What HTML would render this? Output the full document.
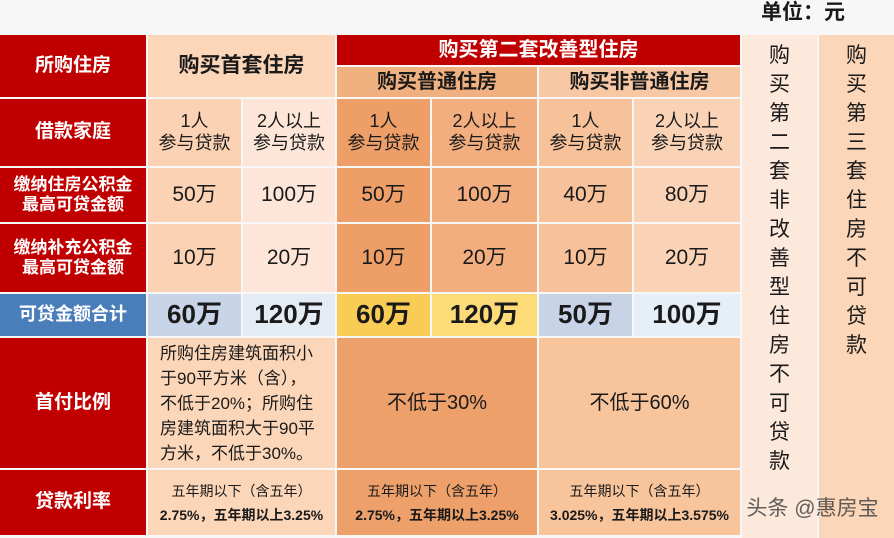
<!DOCTYPE html>
<html><head><meta charset="utf-8"><style>
body{margin:0;width:894px;height:538px;background:#f7f7f7;position:relative;overflow:hidden;font-family:"Liberation Sans","Noto Sans CJK SC",sans-serif;}
.c{position:absolute;display:flex;align-items:center;justify-content:center;text-align:center;box-sizing:border-box;color:#1a1a1a;line-height:1.2;}
.r{background:#c00000;color:#fff;font-weight:bold;font-size:19px;}
.b{font-weight:bold;}
.v{flex-direction:column;font-size:21px;line-height:29px;justify-content:flex-start;padding-top:6px;}
</style></head><body>
<div class="c b" style="left:748px;top:0;width:110px;height:26px;font-size:21px;">单位：元</div>

<div class="c r" style="left:0;top:35px;width:146px;height:62px;">所购住房</div>
<div class="c b" style="left:148px;top:35px;width:187px;height:62px;background:#fcd6b8;font-size:21px;">购买首套住房</div>
<div class="c r" style="left:337px;top:35px;width:403px;height:30px;font-size:20px;">购买第二套改善型住房</div>
<div class="c b" style="left:337px;top:67px;width:200px;height:30px;background:#f1b07f;font-size:20px;">购买普通住房</div>
<div class="c b" style="left:539px;top:67px;width:201px;height:30px;background:#f8c8a4;font-size:20px;">购买非普通住房</div>

<div class="c r" style="left:0;top:99px;width:146px;height:67px;">借款家庭</div>
<div class="c r" style="left:0;top:168px;width:146px;height:54px;font-size:17px;">缴纳住房公积金<br>最高可贷金额</div>
<div class="c r" style="left:0;top:224px;width:146px;height:68px;font-size:17px;">缴纳补充公积金<br>最高可贷金额</div>
<div class="c r" style="left:0;top:294px;width:146px;height:42px;background:#4a7ebb;font-size:18px;">可贷金额合计</div>
<div class="c r" style="left:0;top:338px;width:146px;height:130px;">首付比例</div>
<div class="c r" style="left:0;top:470px;width:146px;height:65px;">贷款利率</div>

<div id="grid"></div>

<div class="c" style="left:148px;top:338px;width:187px;height:130px;background:#fcd6b8;font-size:17px;text-align:left;justify-content:flex-start;padding:0 8px 0 12px;line-height:25px;white-space:nowrap;">所购住房建筑面积小<br>于90平方米（含），<br>不低于20%；所购住<br>房建筑面积大于90平<br>方米，不低于30%。</div>
<div class="c" style="left:337px;top:338px;width:200px;height:130px;background:#eea06a;font-size:20px;">不低于30%</div>
<div class="c" style="left:539px;top:338px;width:201px;height:130px;background:#f7c49c;font-size:20px;">不低于60%</div>
<div class="c" style="left:148px;top:470px;width:187px;height:65px;background:#fcd6b8;font-size:14px;line-height:24px;white-space:nowrap;"><div>五年期以下（含五年）<br><b>2.75%，五年期以上3.25%</b></div></div>
<div class="c" style="left:337px;top:470px;width:200px;height:65px;background:#eea06a;font-size:14px;line-height:24px;white-space:nowrap;"><div>五年期以下（含五年）<br><b>2.75%，五年期以上3.25%</b></div></div>
<div class="c" style="left:539px;top:470px;width:201px;height:65px;background:#f7c49c;font-size:14px;line-height:24px;white-space:nowrap;"><div>五年期以下（含五年）<br><b>3.025%，五年期以上3.575%</b></div></div>

<div class="c v" style="left:742px;top:35px;width:75px;height:503px;background:#fde8dc;">购<br>买<br>第<br>二<br>套<br>非<br>改<br>善<br>型<br>住<br>房<br>不<br>可<br>贷<br>款</div>
<div class="c v" style="left:819px;top:35px;width:75px;height:503px;background:#fcd6b8;">购<br>买<br>第<br>三<br>套<br>住<br>房<br>不<br>可<br>贷<br>款</div>
<div class="c" style="left:735px;top:494px;width:155px;height:30px;font-size:21px;color:#444;opacity:0.85;">头条 @惠房宝</div>

<script>
const colLeft=[148,243,337,432,539,634];
const colW=[93,92,93,105,93,106];
const colBg1=['#fbd2b3','#fde6d8','#ee9f68','#f3ae7f','#f7c19a','#fad3b7'];
const totalBg=['#c8d4e8','#e3ebf5','#f9cc55','#fddc78','#c9d3e8','#e6eef7'];
const familyLabels=['1人<br>参与贷款','2人以上<br>参与贷款','1人<br>参与贷款','2人以上<br>参与贷款','1人<br>参与贷款','2人以上<br>参与贷款'];
const hpfValues=[50,100,50,100,40,80];
const suppValues=[10,20,10,20,10,20];
const g=document.getElementById('grid');
function cell(i,top,h,html,bg,fs,name,bold){
  const d=document.createElement('div');
  d.className='c'+(bold?' b':'');
  d.style.cssText=`left:${colLeft[i]}px;top:${top}px;width:${colW[i]}px;height:${h}px;background:${bg};font-size:${fs}px;`;
  d.innerHTML=html;
  
  
  g.appendChild(d);
}
for(let i=0;i<6;i++){
  cell(i,99,67,familyLabels[i],colBg1[i],18,'family-cell',false);
  cell(i,168,54,hpfValues[i]+'万',colBg1[i],21,'hpf-cell',false);
  cell(i,224,68,suppValues[i]+'万',colBg1[i],21,'supp-cell',false);
  cell(i,294,42,(hpfValues[i]+suppValues[i])+'万',totalBg[i],26,'total-cell',true);
}
</script>
</body></html>
